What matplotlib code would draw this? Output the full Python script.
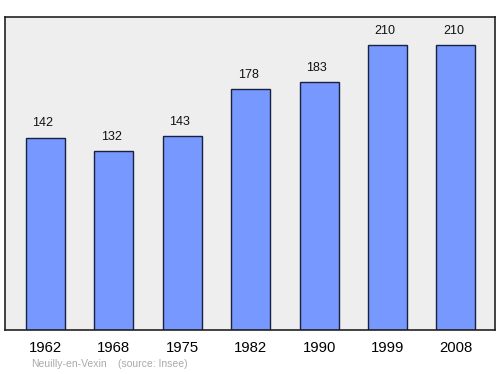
import matplotlib.pyplot as plt

plt.rcParams['font.family'] = ['Liberation Sans', 'DejaVu Sans']

years = ['1962', '1968', '1975', '1982', '1990', '1999', '2008']
population = [142, 132, 143, 178, 183, 210, 210]

fig = plt.figure(figsize=(5, 3.74), dpi=100)
# plot area in pixels: x 5..495, y 17..330
ax = fig.add_axes([5 / 500, 44 / 374, 490 / 500, 313 / 374])
ax.set_facecolor('#eeeeee')

x = range(len(years))
ax.bar(x, population, width=0.57, color='#7799ff', edgecolor='#1a2040', linewidth=1)

for xi, v in zip(x, population):
    ax.text(xi - 0.035, v + 10.5, str(v), ha='center', va='center', fontsize=9, color='#111111')

ax.set_xlim(-0.59, 6.57)
ax.set_ylim(0, 231)
ax.set_yticks([])
ax.set_xticks(list(x))
ax.set_xticklabels(years, fontsize=10.7)
ax.tick_params(axis='x', length=0, pad=8)
for s in ax.spines.values():
    s.set_color('#222222')
    s.set_linewidth(1.2)

fig.text(31 / 500, 1 - 364 / 374, 'Neuilly-en-Vexin', fontsize=7.5, color='#aaaaaa', va='center')
fig.text(118 / 500, 1 - 364 / 374, '(source: Insee)', fontsize=7.5, color='#aaaaaa', va='center')

plt.savefig('out.png', dpi=100)
